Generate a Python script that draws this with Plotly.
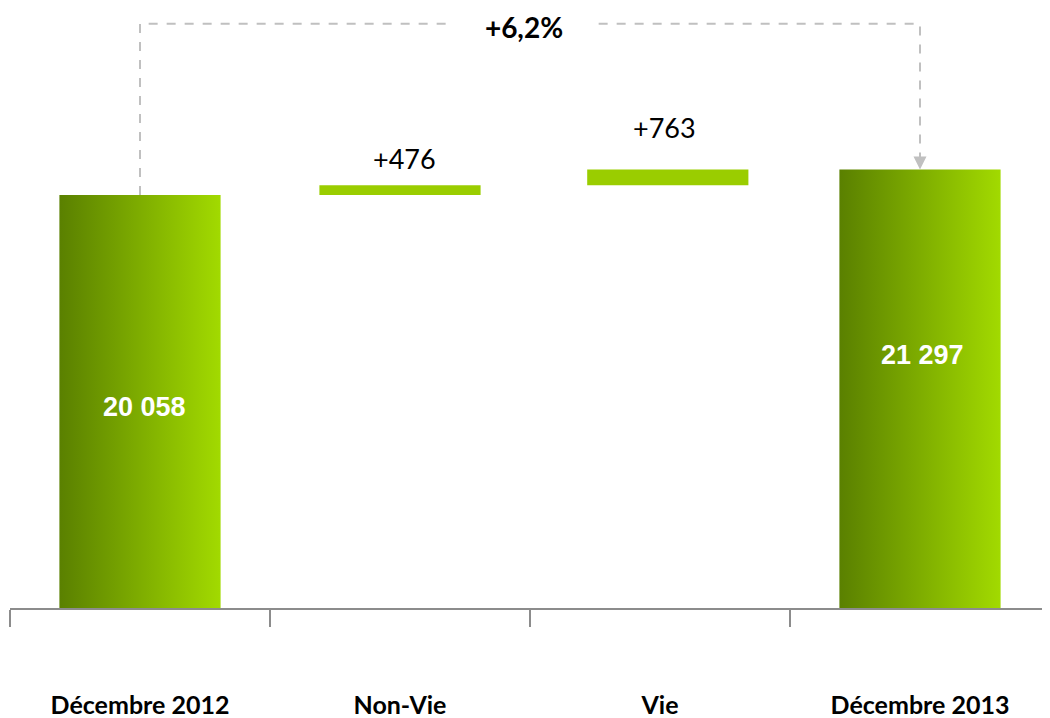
import plotly.graph_objects as go

categories = ["Décembre 2012", "Non-Vie", "Vie", "Décembre 2013"]
start_value = 20058
deltas = [476, 763]
end_value = 21297
delta_labels = ["+476", "+763"]
total_labels = ["20 058", "21 297"]
pct_label = "+6,2%"

W = 0.62
YMAX = 29050
GREY = "#c0c0c0"
label_yshift = [8, 24]
bar_offsets = [-W / 2, -W / 2 + 0.03]

fig = go.Figure()

# total bars with horizontal gradient
for idx, val in [(0, start_value), (3, end_value)]:
    fig.add_trace(go.Scatter(
        x=[idx - W/2, idx + W/2, idx + W/2, idx - W/2, idx - W/2],
        y=[0, 0, val, val, 0],
        mode="lines", line=dict(width=0), fill="toself",
        fillgradient=dict(type="horizontal",
                          colorscale=[[0, "#5a8000"], [1, "#a2da00"]]),
        hoverinfo="skip", showlegend=False))

# increments
bases = [start_value, start_value + deltas[0]]
fig.add_trace(go.Bar(x=[1, 2], y=deltas, base=bases, width=W, offset=bar_offsets,
                     marker=dict(color="#9acd00", line=dict(width=0)),
                     showlegend=False))

ytop = 0.977 * YMAX
fig.add_shape(type="path",
              path=f"M 0,{start_value} L 0,{ytop} L 3,{ytop} L 3,{end_value}",
              line=dict(color=GREY, width=2, dash="dash"), layer="below")
fig.add_annotation(x=3, y=end_value, ax=0, ay=-18, showarrow=True,
                   arrowhead=2, arrowsize=1.3, arrowwidth=2, arrowcolor=GREY,
                   text="")
fig.add_annotation(x=1.5, y=ytop, text=f"<b>{pct_label}</b>", showarrow=False,
                   font=dict(family="Lato", size=28, color="black"),
                   bgcolor="white", borderpad=2, xshift=-6, yshift=-3,
                   width=140)

for i, (b, d, t) in enumerate(zip(bases, deltas, delta_labels)):
    fig.add_annotation(x=i + 1, y=b + d, text=t, showarrow=False,
                       yanchor="bottom", yshift=label_yshift[i], xshift=4,
                       font=dict(family="Lato", size=27, color="black"))

fig.add_annotation(x=0, y=start_value * 0.487, text=f"<b>{total_labels[0]}</b>",
                   showarrow=False, xshift=4,
                   font=dict(family="Liberation Sans", size=27, color="white"))
fig.add_annotation(x=3, y=end_value * 0.577, text=f"<b>{total_labels[1]}</b>",
                   showarrow=False, xshift=2,
                   font=dict(family="Liberation Sans", size=27, color="white"))

fig.update_layout(
    width=1042, height=710,
    margin=dict(l=2, r=0, t=2, b=110),
    plot_bgcolor="white", paper_bgcolor="white",
    xaxis=dict(range=[-0.5, 3.5], tickvals=[0, 1, 2, 3],
               ticktext=[f"<b>{c}</b>" for c in categories],
               ticks="", showgrid=False, zeroline=False, automargin=False,
               showline=True, linecolor="#8c8c8c", linewidth=2,
               ticklabelstandoff=74,
               tickfont=dict(family="Lato", size=25, color="black"),
               minor=dict(tick0=-0.5, dtick=1, ticks="outside", ticklen=17,
                          tickwidth=2, tickcolor="#8c8c8c", showgrid=False)),
    yaxis=dict(range=[0, YMAX], visible=False, automargin=False),
)

fig.write_html("out.html")
